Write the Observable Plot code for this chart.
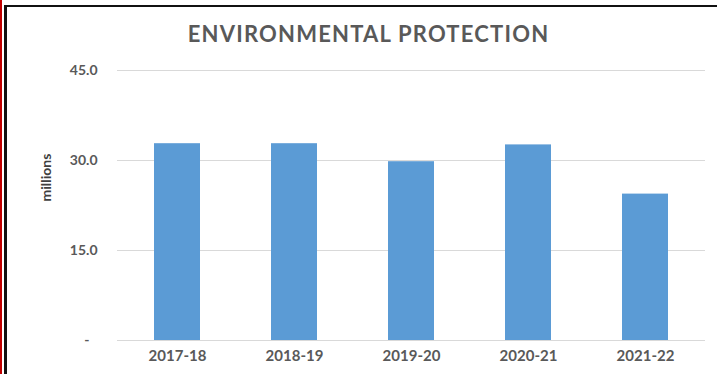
<!DOCTYPE html>
<html>
<head>
<meta charset="utf-8">
<script src="https://cdn.jsdelivr.net/npm/d3@7"></script>
<script src="https://cdn.jsdelivr.net/npm/@observablehq/plot@0.6"></script>
<style>
  html, body { margin: 0; padding: 0; background: #fff; }
  #wrap { position: relative; width: 717px; height: 374px; overflow: hidden; background: #fff; }
  #title { position: absolute; left: 10px; top: 20px; width: 717px; text-align: center;
           font-family: Lato, "Open Sans", sans-serif; font-weight: bold; font-size: 22px;
           color: #595959; letter-spacing: 1.2px; white-space: nowrap; }
  #chart { position: absolute; left: 0; top: 55px; }
  .b-red { position: absolute; left: 0; top: 0; width: 2px; height: 374px; background: #c00000; }
  .b-left { position: absolute; left: 4px; top: 5px; width: 3px; height: 369px; background: #111; }
  .b-top { position: absolute; left: 4px; top: 5px; width: 713px; height: 2px; background: #111; }
</style>
</head>
<body>
<div id="wrap">
  <div class="b-red"></div>
  <div class="b-left"></div>
  <div class="b-top"></div>
  <div id="title"></div>
  <div id="chart"></div>
</div>
<script>
const categories = ["2017-18", "2018-19", "2019-20", "2020-21", "2021-22"];
const values = [32.8, 32.8, 29.8, 32.6, 24.4];
const yTicks = [0, 15, 30, 45];
const yLabel = "millions";
const titleText = "ENVIRONMENTAL PROTECTION";

const data = categories.map((c, i) => ({year: c, value: values[i]}));
document.getElementById("title").textContent = titleText;

const fontFamily = 'Lato, "Open Sans", sans-serif';

const chart = Plot.plot({
  width: 717,
  height: 319,
  marginTop: 15,
  marginBottom: 34,
  marginLeft: 117,
  marginRight: 12,
  style: {fontFamily, fontSize: "14px", fontWeight: "bold", color: "#595959", background: "transparent"},
  x: {domain: categories, paddingInner: 0.61, paddingOuter: 0.3, label: null},
  y: {domain: [0, 45], label: null},
  marks: [
    Plot.ruleY(yTicks, {stroke: "#d9d9d9", strokeWidth: 1}),
    Plot.barY(data, {x: "year", y: "value", fill: "#5b9bd5"}),
    Plot.axisY({ticks: yTicks, tickSize: 0, tickPadding: 0, dx: -20, label: null,
      tickFormat: d => d === 0 ? "-\u2007" : d.toFixed(1), fill: "#595959", fontSize: 14}),
    Plot.axisX({tickSize: 0, tickPadding: 10, label: null, fill: "#595959", fontSize: 15}),
    Plot.text([yLabel], {frameAnchor: "left", text: d => d, rotate: -90, dx: -71, dy: -4,
      fontSize: 14, fontWeight: "bold", fill: "#404040"})
  ]
});
document.getElementById("chart").appendChild(chart);
</script>
</body>
</html>
